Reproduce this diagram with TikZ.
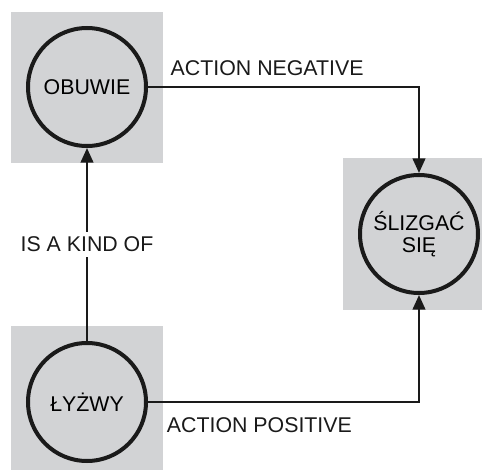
\documentclass[tikz,border=0pt]{standalone}
\usepackage{fontspec}
\setmainfont{Liberation Sans}
\usetikzlibrary{arrows.meta,positioning}
\definecolor{tilegray}{HTML}{D2D3D5}
\definecolor{inkblack}{HTML}{1A1A1A}

\begin{document}
\begin{tikzpicture}[
  x=0.75pt, y=-0.75pt,
  >={Triangle[length=11pt,width=9.5pt]},
  font=\fontsize{16}{18}\selectfont,
  tile/.style={fill=tilegray},
  concept/.style={circle, draw=inkblack, line width=3pt, minimum size=88.5pt, inner sep=0pt, align=center},
  flow/.style={->, draw=inkblack, line width=1.6pt},
  tag/.style={inner sep=0pt, text=inkblack}
]
  \useasboundingbox (0,0) rectangle (482,471);
  % grey tiles behind the concepts
  \fill[tile] (11,12) rectangle (163,163);
  \fill[tile] (343,158) rectangle (482,310);
  \fill[tile] (11,326) rectangle (163,470);

  \node[concept] (obuwie) at (87,87) {OBUWIE};
  \node[concept] (slizgac) at (419,234) {ŚLIZGAĆ\\[-1pt]SIĘ};
  \node[concept] (lyzwy) at (87,402) {ŁYŻWY};

  \draw[flow] (obuwie.east) -| (slizgac.north)
    node[tag, pos=0.04, anchor=base west, yshift=9pt] {ACTION NEGATIVE};
  \draw[flow] (lyzwy.east) -| (slizgac.south)
    node[tag, pos=0.033, anchor=north west, yshift=-11.25pt] {ACTION POSITIVE};
  \draw[flow] (lyzwy) -- (obuwie)
    node[tag, midway, fill=white, inner sep=4pt] {IS A KIND OF};
\end{tikzpicture}
\end{document}
